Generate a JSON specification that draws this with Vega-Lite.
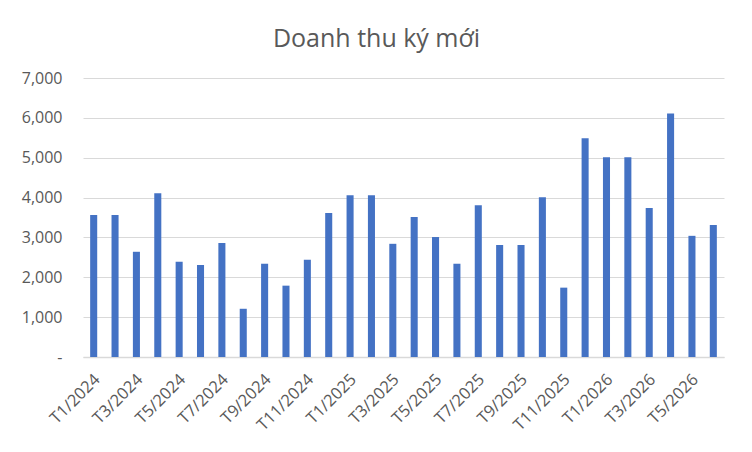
{
  "$schema": "https://vega.github.io/schema/vega-lite/v6.json",
  "autosize": {"type": "none"},
  "padding": {"left": 83, "top": 78, "right": 28, "bottom": 95},
  "width": 641,
  "height": 279,
  "background": "white",
  "title": {
    "text": "Doanh thu ký mới",
    "font": "Open Sans",
    "fontSize": 25,
    "fontWeight": "normal",
    "color": "#595959",
    "anchor": "middle",
    "frame": "group",
    "baseline": "alphabetic",
    "offset": -2,
    "dx": -27
  },
  "data": {
    "values": [
      {"thang": "T1/2024", "doanh_thu": 3560},
      {"thang": "T2/2024", "doanh_thu": 3560},
      {"thang": "T3/2024", "doanh_thu": 2640},
      {"thang": "T4/2024", "doanh_thu": 4110},
      {"thang": "T5/2024", "doanh_thu": 2390},
      {"thang": "T6/2024", "doanh_thu": 2310},
      {"thang": "T7/2024", "doanh_thu": 2860},
      {"thang": "T8/2024", "doanh_thu": 1210},
      {"thang": "T9/2024", "doanh_thu": 2340},
      {"thang": "T10/2024", "doanh_thu": 1790},
      {"thang": "T11/2024", "doanh_thu": 2440},
      {"thang": "T12/2024", "doanh_thu": 3610},
      {"thang": "T1/2025", "doanh_thu": 4060},
      {"thang": "T2/2025", "doanh_thu": 4060},
      {"thang": "T3/2025", "doanh_thu": 2840},
      {"thang": "T4/2025", "doanh_thu": 3510},
      {"thang": "T5/2025", "doanh_thu": 3010},
      {"thang": "T6/2025", "doanh_thu": 2340},
      {"thang": "T7/2025", "doanh_thu": 3810},
      {"thang": "T8/2025", "doanh_thu": 2810},
      {"thang": "T9/2025", "doanh_thu": 2810},
      {"thang": "T10/2025", "doanh_thu": 4010},
      {"thang": "T11/2025", "doanh_thu": 1740},
      {"thang": "T12/2025", "doanh_thu": 5490},
      {"thang": "T1/2026", "doanh_thu": 5010},
      {"thang": "T2/2026", "doanh_thu": 5010},
      {"thang": "T3/2026", "doanh_thu": 3740},
      {"thang": "T4/2026", "doanh_thu": 6110},
      {"thang": "T5/2026", "doanh_thu": 3040},
      {"thang": "T6/2026", "doanh_thu": 3310}
    ]
  },
  "mark": {"type": "bar", "color": "#4472C4"},
  "encoding": {
    "x": {
      "field": "thang",
      "type": "nominal",
      "sort": null,
      "scale": {"paddingInner": 0.67, "paddingOuter": 0.335},
      "axis": {
        "title": null,
        "values": ["T1/2024", "T3/2024", "T5/2024", "T7/2024", "T9/2024", "T11/2024",
                   "T1/2025", "T3/2025", "T5/2025", "T7/2025", "T9/2025", "T11/2025",
                   "T1/2026", "T3/2026", "T5/2026"],
        "labelAngle": -45,
        "labelFont": "Open Sans",
        "labelFontSize": 16.5,
        "labelColor": "#595959",
        "labelPadding": 14,
        "labelOffset": -2,
        "ticks": false,
        "domainColor": "#D9D9D9",
        "domainWidth": 1.5
      }
    },
    "y": {
      "field": "doanh_thu",
      "type": "quantitative",
      "scale": {"domain": [0, 7000]},
      "axis": {
        "title": null,
        "values": [0, 1000, 2000, 3000, 4000, 5000, 6000, 7000],
        "labelExpr": "datum.value === 0 ? '-\u00a0\u00a0\u00a0' : format(datum.value, ',')",
        "labelFont": "Open Sans",
        "labelFontSize": 16,
        "labelColor": "#595959",
        "labelPadding": 21,
        "ticks": false,
        "domain": false,
        "gridColor": "#D9D9D9",
        "gridWidth": 1
      }
    }
  },
  "config": {"view": {"stroke": null}}
}
